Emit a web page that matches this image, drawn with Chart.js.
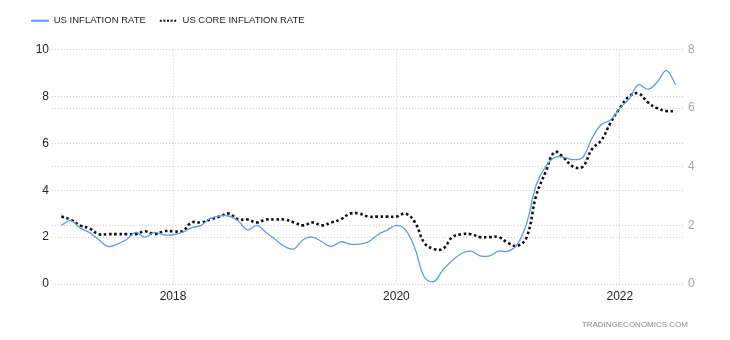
<!DOCTYPE html>
<html>
<head>
<meta charset="utf-8">
<script src="https://cdn.jsdelivr.net/npm/chart.js@4.4.1/dist/chart.umd.min.js"></script>
<style>
  html, body { margin: 0; padding: 0; background: #fff; }
  #wrap { width: 730px; height: 340px; }
</style>
</head>
<body>
<div id="wrap"><canvas id="chart-inflasi"></canvas></div>
<script>
// Data bulanan Jan 2017 - Jul 2022
const startYear = 2017;

// Inflasi tahunan (%), sumbu kiri
const inflationRate = [
    2.5, 2.7, 2.4, 2.2, 1.9, 1.6, 1.7, 1.9, 2.2, 2.0, 2.2, 2.1,
    2.1, 2.2, 2.4, 2.5, 2.8, 2.9, 2.9, 2.7, 2.3, 2.5, 2.2, 1.9,
    1.6, 1.5, 1.9, 2.0, 1.8, 1.6, 1.8, 1.7, 1.7, 1.8, 2.1, 2.3,
    2.5, 2.3, 1.5, 0.3, 0.1, 0.6, 1.0, 1.3, 1.4, 1.2, 1.2, 1.4,
    1.4, 1.7, 2.6, 4.2, 5.0, 5.4, 5.4, 5.3, 5.4, 6.2, 6.8, 7.0,
    7.5, 7.9, 8.5, 8.3, 8.6, 9.1, 8.5
];

// Inflasi inti (%), sumbu kanan
const coreInflationRate = [
    2.3, 2.2, 2.0, 1.9, 1.7, 1.7, 1.7, 1.7, 1.7, 1.8, 1.7, 1.8,
    1.8, 1.8, 2.1, 2.1, 2.2, 2.3, 2.4, 2.2, 2.2, 2.1, 2.2, 2.2,
    2.2, 2.1, 2.0, 2.1, 2.0, 2.1, 2.2, 2.4, 2.4, 2.3, 2.3, 2.3,
    2.3, 2.4, 2.1, 1.4, 1.2, 1.2, 1.6, 1.7, 1.7, 1.6, 1.6, 1.6,
    1.4, 1.3, 1.6, 3.0, 3.8, 4.5, 4.3, 4.0, 4.0, 4.6, 4.9, 5.5,
    6.0, 6.4, 6.5, 6.2, 6.0, 5.9, 5.9
];

// Label tahun pada sumbu X
const yearLabels = ['2018', '2020', '2022'];
const leftTicks = [0, 2, 4, 6, 8, 10];
const rightTicks = [0, 2, 4, 6, 8];

function toPoints(values) {
    return values.map((v, i) => ({ x: i, y: v }));
}

const fontFamily = "'Liberation Sans', Arial, sans-serif";
const gridStyle = {
    color: '#cfcfcf',
    lineWidth: 1,
    drawTicks: false
};
const dottedBorder = { display: false, dash: [1, 2] };

// Tambah jarak di bawah legenda
const legendSpacer = {
    id: 'legendSpacer',
    beforeInit(chart) {
        const originalFit = chart.legend.fit;
        chart.legend.fit = function () {
            originalFit.bind(chart.legend)();
            this.height += 14;
        };
    }
};

// Tulisan sumber di pojok kanan bawah
const sourceLabel = {
    id: 'sourceLabel',
    afterDraw(chart) {
        const ctx = chart.ctx;
        ctx.save();
        ctx.font = '8px ' + fontFamily;
        ctx.fillStyle = '#8a8a8a';
        ctx.textAlign = 'right';
        ctx.textBaseline = 'middle';
        ctx.fillText('TRADINGECONOMICS.COM', 688, 325);
        ctx.restore();
    }
};

function initializeChart() {
    const ctx = document.getElementById('chart-inflasi');

    new Chart(ctx, {
        type: 'line',
        data: {
            datasets: [{
                label: 'US INFLATION RATE',
                data: toPoints(inflationRate),
                yAxisID: 'yLeft',
                borderColor: '#5b9cf2',
                backgroundColor: '#5b9cf2',
                borderWidth: 1.3,
                pointRadius: 0,
                tension: 0.4,
                fill: false
            }, {
                label: 'US CORE INFLATION RATE',
                data: toPoints(coreInflationRate),
                yAxisID: 'yRight',
                borderColor: '#111111',
                backgroundColor: '#111111',
                borderWidth: 2.6,
                borderDash: [2.6, 2.6],
                pointRadius: 0,
                tension: 0.4,
                fill: false
            }]
        },
        options: {
            responsive: true,
            maintainAspectRatio: false,
            animation: false,
            layout: { padding: { left: 17, right: 0, top: 2, bottom: 0 } },
            plugins: {
                legend: {
                    position: 'top',
                    align: 'start',
                    labels: {
                        usePointStyle: true,
                        pointStyle: 'line',
                        pointStyleWidth: 18,
                        padding: 14,
                        color: '#222',
                        font: { family: fontFamily, size: 9.5 },
                        // garis legenda ikut pola garis dataset
                        generateLabels: chart => {
                            const items = Chart.defaults.plugins.legend.labels.generateLabels(chart);
                            items.forEach(item => {
                                const ds = chart.data.datasets[item.datasetIndex];
                                item.lineWidth = 2;
                                item.strokeStyle = ds.borderColor;
                                item.lineDash = ds.borderDash ? [2, 1.6] : [];
                            });
                            return items;
                        }
                    }
                },
                tooltip: { enabled: false }
            },
            scales: {
                x: {
                    type: 'linear',
                    min: -1,
                    max: 67,
                    afterBuildTicks: scale => {
                        scale.ticks = yearLabels.map(y => ({ value: (Number(y) - startYear) * 12 }));
                    },
                    afterFit: scale => { scale.height = 56; },
                    ticks: {
                        padding: 5,
                        color: '#222',
                        font: { family: fontFamily, size: 12 },
                        maxRotation: 0,
                        callback: value => String(startYear + Math.round(value / 12))
                    },
                    grid: gridStyle,
                    border: dottedBorder
                },
                yLeft: {
                    position: 'left',
                    min: 0,
                    max: 10,
                    afterBuildTicks: scale => {
                        scale.ticks = leftTicks.map(v => ({ value: v }));
                    },
                    afterFit: scale => { scale.width = 35; },
                    ticks: {
                        padding: 3,
                        color: '#222',
                        font: { family: fontFamily, size: 12 }
                    },
                    grid: gridStyle,
                    border: dottedBorder
                },
                yRight: {
                    position: 'right',
                    min: 0,
                    max: 8,
                    afterBuildTicks: scale => {
                        scale.ticks = rightTicks.map(v => ({ value: v }));
                    },
                    afterFit: scale => { scale.width = 45; },
                    ticks: {
                        padding: 3,
                        color: '#aca59f',
                        font: { family: fontFamily, size: 12 }
                    },
                    grid: gridStyle,
                    border: dottedBorder
                }
            }
        },
        plugins: [legendSpacer, sourceLabel]
    });
}

window.addEventListener('load', initializeChart);
</script>
</body>
</html>
